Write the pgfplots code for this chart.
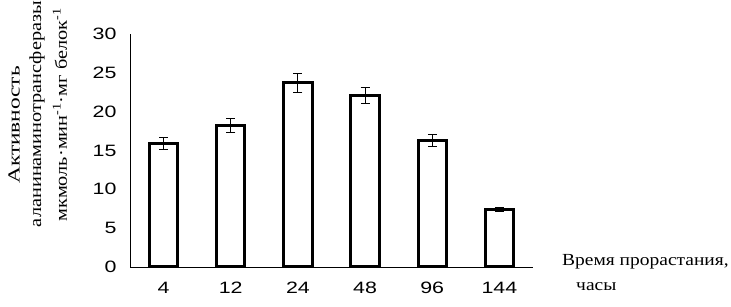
\documentclass[border=0pt]{standalone}
\usepackage{fontspec}
\setmainfont{Liberation Serif}
\newfontfamily\ticksfont[FakeStretch=1.3]{Liberation Sans}
\newfontfamily\xlabfont[FakeStretch=1.15]{Liberation Serif}
\newfontfamily\ylabfont[FakeStretch=1.2]{Liberation Serif}
\newfontfamily\ylabwide[FakeStretch=1.38]{Liberation Serif}
\usepackage{pgfplots}
\pgfplotsset{compat=1.18}
\begin{document}
\begin{tikzpicture}
\path[use as bounding box] (0,0) rectangle (731bp,307bp);
\begin{axis}[
  at={(130bp,40bp)}, anchor=south west,
  scale only axis, width=403bp, height=233bp,
  xmin=-0.5, xmax=5.5, ymin=0, ymax=30,
  axis x line=bottom, axis y line=left,
  axis line style={-, line width=0.8bp},
  axis on top,
  xtick={0,1,2,3,4,5},
  xticklabels={4,12,24,48,96,144},
  ytick={0,5,10,15,20,25,30},
  major tick length=0pt,
  /pgf/number format/assume math mode=true,
  ticklabel style={font=\ticksfont\fontsize{16.5}{18}\selectfont},
  yticklabel style={xshift=-10bp},
  xticklabel style={yshift=-12bp},
  clip=true,
]
\addplot[ybar, bar width=0.42, draw=black, line width=3bp, fill=white,
  error bars/.cd, y dir=both, y explicit,
  error bar style={line width=1bp, black},
  error mark options={rotate=90, mark size=4.5bp, line width=1bp, black}]
coordinates {
  (0,15.9) +- (0,0.75)
  (1,18.25) +- (0,0.88)
  (2,23.7) +- (0,1.25)
  (3,22.1) +- (0,1.07)
  (4,16.3) +- (0,0.75)
  (5,7.4) +- (0,0.25)
};
\end{axis}
\node[rotate=90, inner sep=0pt, font=\ylabwide\fontsize{17}{20}\selectfont] at (14bp,182bp) {Активность};
\node[rotate=90, inner sep=0pt, font=\ylabfont\fontsize{17}{20}\selectfont] at (37bp,193bp) {аланинаминотрансферазы};
\node[rotate=90, inner sep=0pt, font=\ylabfont\fontsize{17}{20}\selectfont] at (60bp,192bp) {мкмоль·мин\textsuperscript{-1}·мг белок\textsuperscript{-1}};
\node[anchor=west, inner sep=0pt, font=\xlabfont\fontsize{17}{20}\selectfont] at (562bp,45bp) {Время прорастания,};
\node[anchor=west, inner sep=0pt, font=\xlabfont\fontsize{17}{20}\selectfont] at (576bp,20bp) {часы};
\end{tikzpicture}
\end{document}
